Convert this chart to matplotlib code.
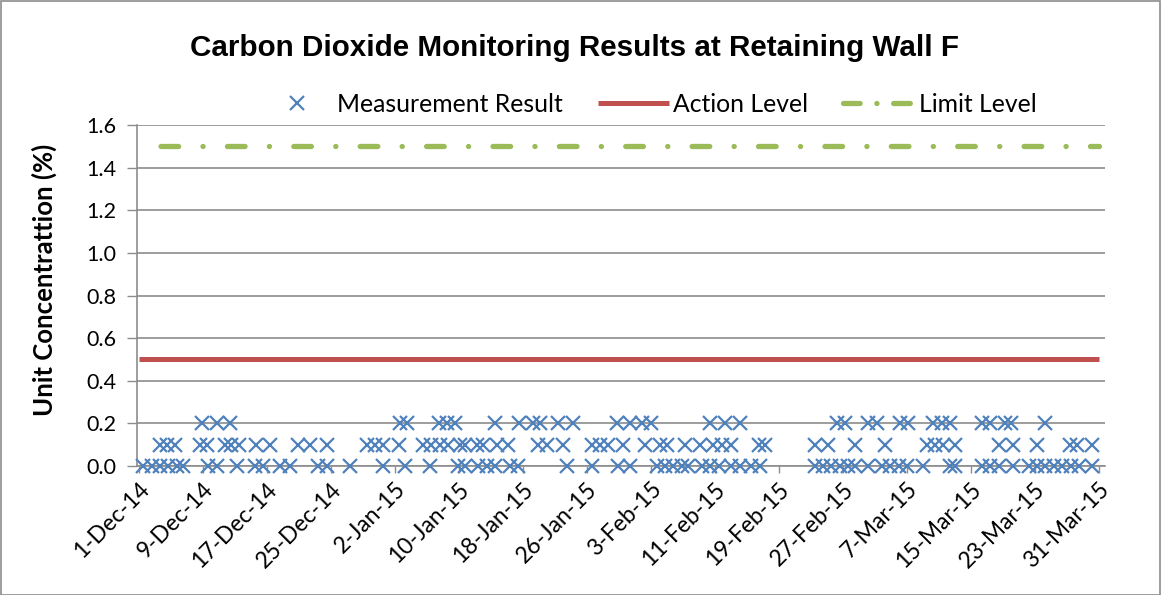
import matplotlib
matplotlib.use("Agg")
import matplotlib.pyplot as plt
from matplotlib.lines import Line2D
from matplotlib.patches import Rectangle

plt.rcParams['lines.scale_dashes'] = False

# ---- data (day offsets from 1-Dec-14) ----
days_00 = [0.5, 1.7, 2.7, 3.7, 4.8, 5.6, 8.7, 9.8, 12.3, 14.6, 15.6, 17.7, 18.9,
           22.4, 23.5, 26.4, 30.6, 33.3, 36.4, 39.9, 40.8, 42.4, 43.5, 44.6, 46.4,
           47.4, 53.5, 56.7, 59.9, 61.4, 64.8, 65.8, 66.8, 67.9, 68.7, 70.4, 71.4,
           72.5, 74.1, 75.2, 76.6, 77.7, 84.6, 85.6, 86.6, 87.7, 88.7, 89.6, 91.2,
           92.9, 93.9, 95.0, 96.0, 98.1, 101.4, 102.0, 105.4, 106.4, 107.6, 109.3,
           111.3, 112.3, 113.3, 114.4, 115.4, 116.5, 117.5, 119.2]
days_01 = [2.7, 3.6, 4.5, 7.7, 8.6, 10.8, 11.6, 12.5, 14.7, 16.4, 19.9, 21.4, 23.5,
           28.5, 29.5, 30.6, 32.5, 35.6, 36.6, 37.7, 38.7, 40.2, 40.8, 42.3, 43.1,
           44.8, 46.2, 49.9, 51.1, 53.1, 56.7, 57.7, 58.7, 60.6, 63.3, 65.2, 66.0,
           68.3, 70.2, 71.8, 72.9, 74.1, 77.5, 78.3, 84.6, 86.2, 89.6, 93.3, 98.5,
           99.6, 100.6, 102.1, 107.5, 109.3, 112.3, 116.4, 117.3, 119.2]
days_02 = [7.9, 9.8, 11.4, 32.7, 33.5, 37.5, 38.5, 39.5, 44.6, 47.5, 49.3, 50.2,
           52.4, 54.3, 59.8, 61.4, 62.9, 64.1, 71.4, 73.3, 75.2, 87.3, 88.3, 91.2,
           92.3, 95.2, 96.2, 99.3, 100.4, 101.4, 105.4, 106.4, 108.3, 109.1, 113.3]
meas_days = days_00 + days_01 + days_02
meas_vals = [0.0] * len(days_00) + [0.1] * len(days_01) + [0.2] * len(days_02)

period_days = [0, 120]
action_level = [0.5, 0.5]
limit_level = [1.5, 1.5]

tick_days = list(range(0, 121, 8))
tick_labels = ['1-Dec-14', '9-Dec-14', '17-Dec-14', '25-Dec-14', '2-Jan-15',
               '10-Jan-15', '18-Jan-15', '26-Jan-15', '3-Feb-15', '11-Feb-15',
               '19-Feb-15', '27-Feb-15', '7-Mar-15', '15-Mar-15', '23-Mar-15',
               '31-Mar-15']
y_ticks = [0.0, 0.2, 0.4, 0.6, 0.8, 1.0, 1.2, 1.4, 1.6]

title = 'Carbon Dioxide Monitoring Results at Retaining Wall F'
ylabel = 'Unit Concentrattion (%)'

# ---- styling ----
BLUE = '#4F81BD'
RED = '#C0504D'
GREEN = '#9BBB59'
GRID = '#8C8C8C'
FONT = 'Lato'
DASHDOT = (12.7, 17.5, 0.1, 17.5)

W, H = 1161, 595
fig = plt.figure(figsize=(W / 100, H / 100), dpi=100)
ax = fig.add_axes([137 / W, 1 - 466 / H, (1105 - 137) / W, (466 - 125) / H])

ax.plot(meas_days, meas_vals, linestyle='none', marker='x', color=BLUE,
        markersize=9.5, markeredgewidth=1.6, zorder=3, clip_on=False)
ax.plot(period_days, action_level, color=RED, linewidth=3.6, solid_capstyle='butt', zorder=2)
ax.plot(period_days, limit_level, color=GREEN, linewidth=3.8,
        linestyle=(32.3, DASHDOT), dash_capstyle='round', zorder=2)

ax.set_xlim(-0.2, 120.8)
ax.set_ylim(0, 1.6)
ax.set_yticks(y_ticks)
ax.set_yticklabels([f'{v:.1f}' for v in y_ticks], fontsize=15.5, family=FONT)
ax.set_xticks(tick_days)
ax.set_xticklabels(tick_labels, fontsize=16.5, family=FONT, rotation=45,
                   ha='right', va='top', rotation_mode='anchor')
ax.tick_params(axis='x', length=5, color=GRID, width=1, direction='out', pad=4)
ax.tick_params(axis='y', length=7, color=GRID, width=1, direction='out', pad=8)
ax.grid(axis='y', color=GRID, linewidth=1.2, zorder=0)
ax.set_axisbelow(True)
for s in ['top', 'right']:
    ax.spines[s].set_visible(False)
for s in ['left', 'bottom']:
    ax.spines[s].set_color(GRID)
    ax.spines[s].set_linewidth(1.2)

fig.text(575 / W, 1 - 48 / H, title, ha='center', va='center', fontsize=21.3,
         fontweight='bold', family='Liberation Sans')
fig.text(44 / W, 1 - 280 / H, ylabel, ha='center', va='center', rotation=90,
         fontsize=18.5, fontweight='bold', family=FONT)

handles = [
    Line2D([], [], linestyle='none', marker='x', color=BLUE, markersize=9.5, markeredgewidth=1.6),
    Line2D([], [], color=RED, linewidth=3.6, solid_capstyle='butt'),
    Line2D([], [], color=GREEN, linewidth=3.8, linestyle=(0, (12, 12, 0.1, 12)),
           dash_capstyle='round'),
]
leg = fig.legend(handles, ['Measurement Result', 'Action Level', 'Limit Level'],
                 loc='center', bbox_to_anchor=(649 / W, 1 - 104 / H), ncol=3,
                 frameon=False, prop={'family': FONT, 'size': 17.8},
                 handlelength=2.9, columnspacing=1.4, handletextpad=0.16)

fig.patches.append(Rectangle((0.5 / W, 0.5 / H), 1 - 1.5 / W, 1 - 1.5 / H,
                             transform=fig.transFigure, fill=False,
                             edgecolor='#8C8C8C', linewidth=1.2))

fig.savefig('out.png', dpi=100)
